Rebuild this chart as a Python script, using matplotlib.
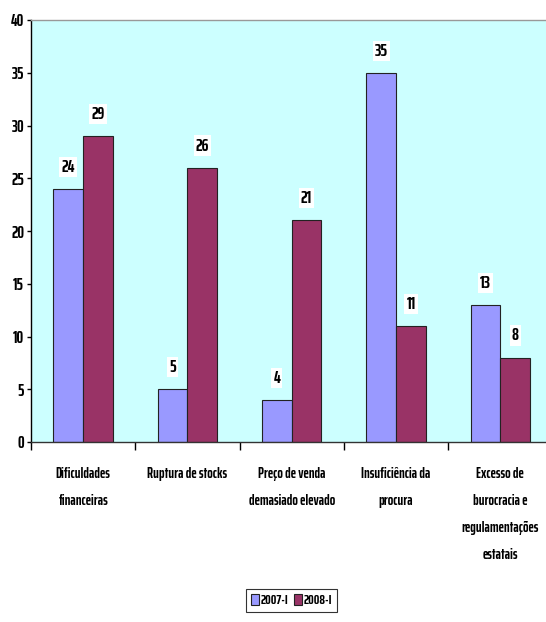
import matplotlib
matplotlib.use("Agg")
import matplotlib.pyplot as plt
import numpy as np

categories = ["Dificuldades\nfinanceiras", "Ruptura de stocks", "Preço de venda\ndemasiado elevado",
              "Insuficiência da\nprocura", "Excesso de\nburocracia e\nregulamentações\nestatais"]
series_names = ["2007-I", "2008-I"]
values_2007 = [24, 5, 4, 35, 13]
values_2008 = [29, 26, 21, 11, 8]
yticks = [0, 5, 10, 15, 20, 25, 30, 35, 40]

FONT = ["Saira ExtraCondensed", "DejaVu Sans"]
plt.rcParams['font.family'] = FONT
plt.rcParams['font.weight'] = 'bold'

W, H = 546, 622
fig = plt.figure(figsize=(W/100, H/100), dpi=100)
left, right, top, bottom = 31, 552.5, 20, 442
ax = fig.add_axes([left/W, 1-bottom/H, (right-left)/W, (bottom-top)/H])
ax.set_facecolor("#CCFFFF")

x = np.arange(len(categories))
bw = 0.285
b1 = ax.bar(x - bw/2, values_2007, bw, color="#9999FF", edgecolor="#222222", linewidth=0.8, label=series_names[0])
b2 = ax.bar(x + bw/2, values_2008, bw, color="#993366", edgecolor="#222222", linewidth=0.8, label=series_names[1])

for bars in (b1, b2):
    for r in bars:
        h = r.get_height()
        ax.text(r.get_x() + r.get_width()/2, h + 2.1, f"{h:g}", ha="center", va="center",
                fontsize=12.5, fontweight="bold",
                bbox=dict(facecolor="white", edgecolor="none", pad=1.5))

ax.set_xlim(-0.5, len(categories) - 0.5)
ax.set_ylim(0, 40)
ax.set_yticks(yticks)
ax.set_yticklabels([str(t) for t in yticks], fontsize=12, fontweight="bold")
ax.tick_params(axis="y", length=3, width=1, direction="out", pad=2)
ax.set_xticks(np.arange(len(categories) + 1) - 0.5, minor=False)
ax.set_xticklabels([])
ax.tick_params(axis="x", length=6, width=1, direction="out")
for i, c in enumerate(categories):
    ax.text(i, -2.35, c, ha="center", va="top", fontsize=10.5, fontweight="bold", linespacing=2.2)

ax.spines["left"].set_color("black")
ax.spines["bottom"].set_color("#333333")
ax.spines["top"].set_color("#999999")
ax.spines["right"].set_color("#999999")
for s in ax.spines.values():
    s.set_linewidth(1)

leg = fig.legend(loc="upper center", bbox_to_anchor=(291.5/W, 1-589/H), ncol=2, frameon=True,
                 fancybox=False, edgecolor="black", fontsize=10, handlelength=0.55, handleheight=0.9,
                 handletextpad=0.15, columnspacing=0.4, borderpad=0.35, borderaxespad=0)
leg.get_frame().set_linewidth(0.8)

fig.savefig("out.png", dpi=100)
